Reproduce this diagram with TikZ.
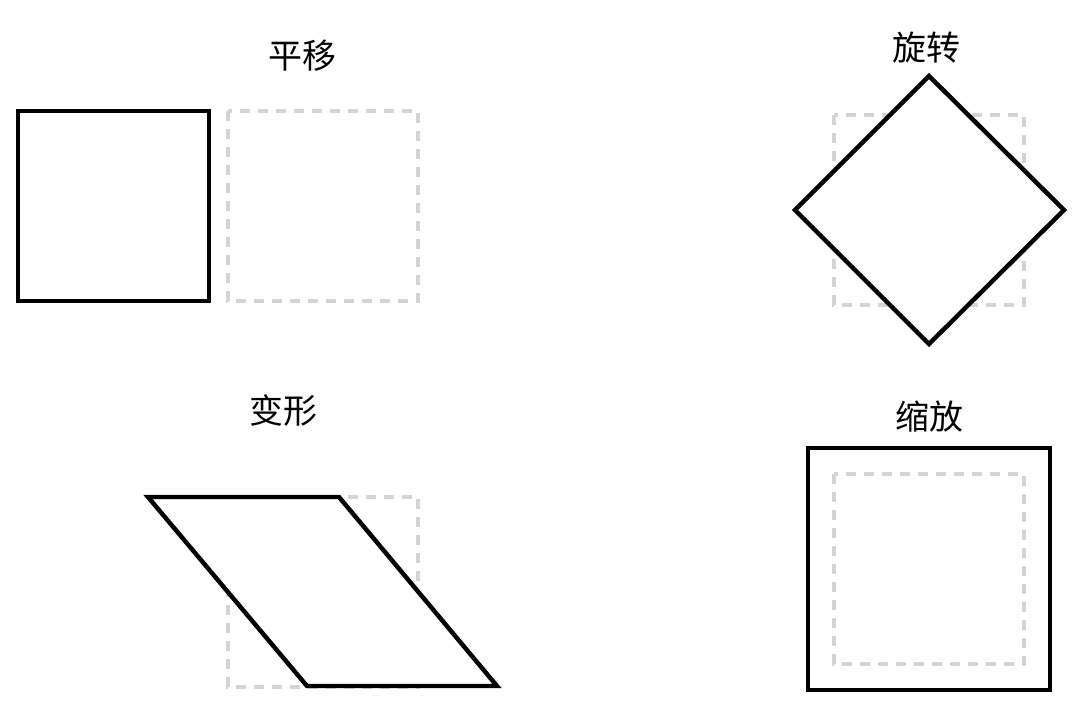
\documentclass[tikz,border=0pt]{standalone}
\usepackage{fontspec}
\newfontfamily\cjk{Noto Sans CJK SC}
\definecolor{ghost}{HTML}{D4D4D4}
\begin{document}
\begin{tikzpicture}[x=0.03cm,y=-0.03cm,
  solidshape/.style={draw=black,fill=white,line width=3.8pt,line join=miter},
  ghostshape/.style={draw=ghost,line width=3.6pt,dash pattern=on 0.3cm off 0.24cm},
  title/.style={font=\cjk\fontsize{29}{32}\selectfont,text=black,inner sep=0pt}]
\useasboundingbox (0,0) rectangle (1072,704);
% translation
\node[title] (t1) at (302,56) {平移};
\draw[ghostshape] (228,111) rectangle (418,301);
\draw[solidshape] (18,111) rectangle (209,301);
% rotation
\node[title] (t2) at (926,48) {旋转};
\draw[ghostshape] (834,115) rectangle (1024,305);
\draw[solidshape] (929,76) -- (1064,210) -- (929,344) -- (795,210) -- cycle;
% shear
\node[title] (t3) at (283,411) {变形};
\draw[ghostshape] (228,497) rectangle (418,687);
\draw[solidshape] (148,497) -- (339,497) -- (497,686) -- (307,686) -- cycle;
% scale
\node[title] (t4) at (929,417) {缩放};
\draw[solidshape] (808,448) rectangle (1050,690);
\draw[ghostshape] (834,474) rectangle (1024,664);
\end{tikzpicture}
\end{document}
